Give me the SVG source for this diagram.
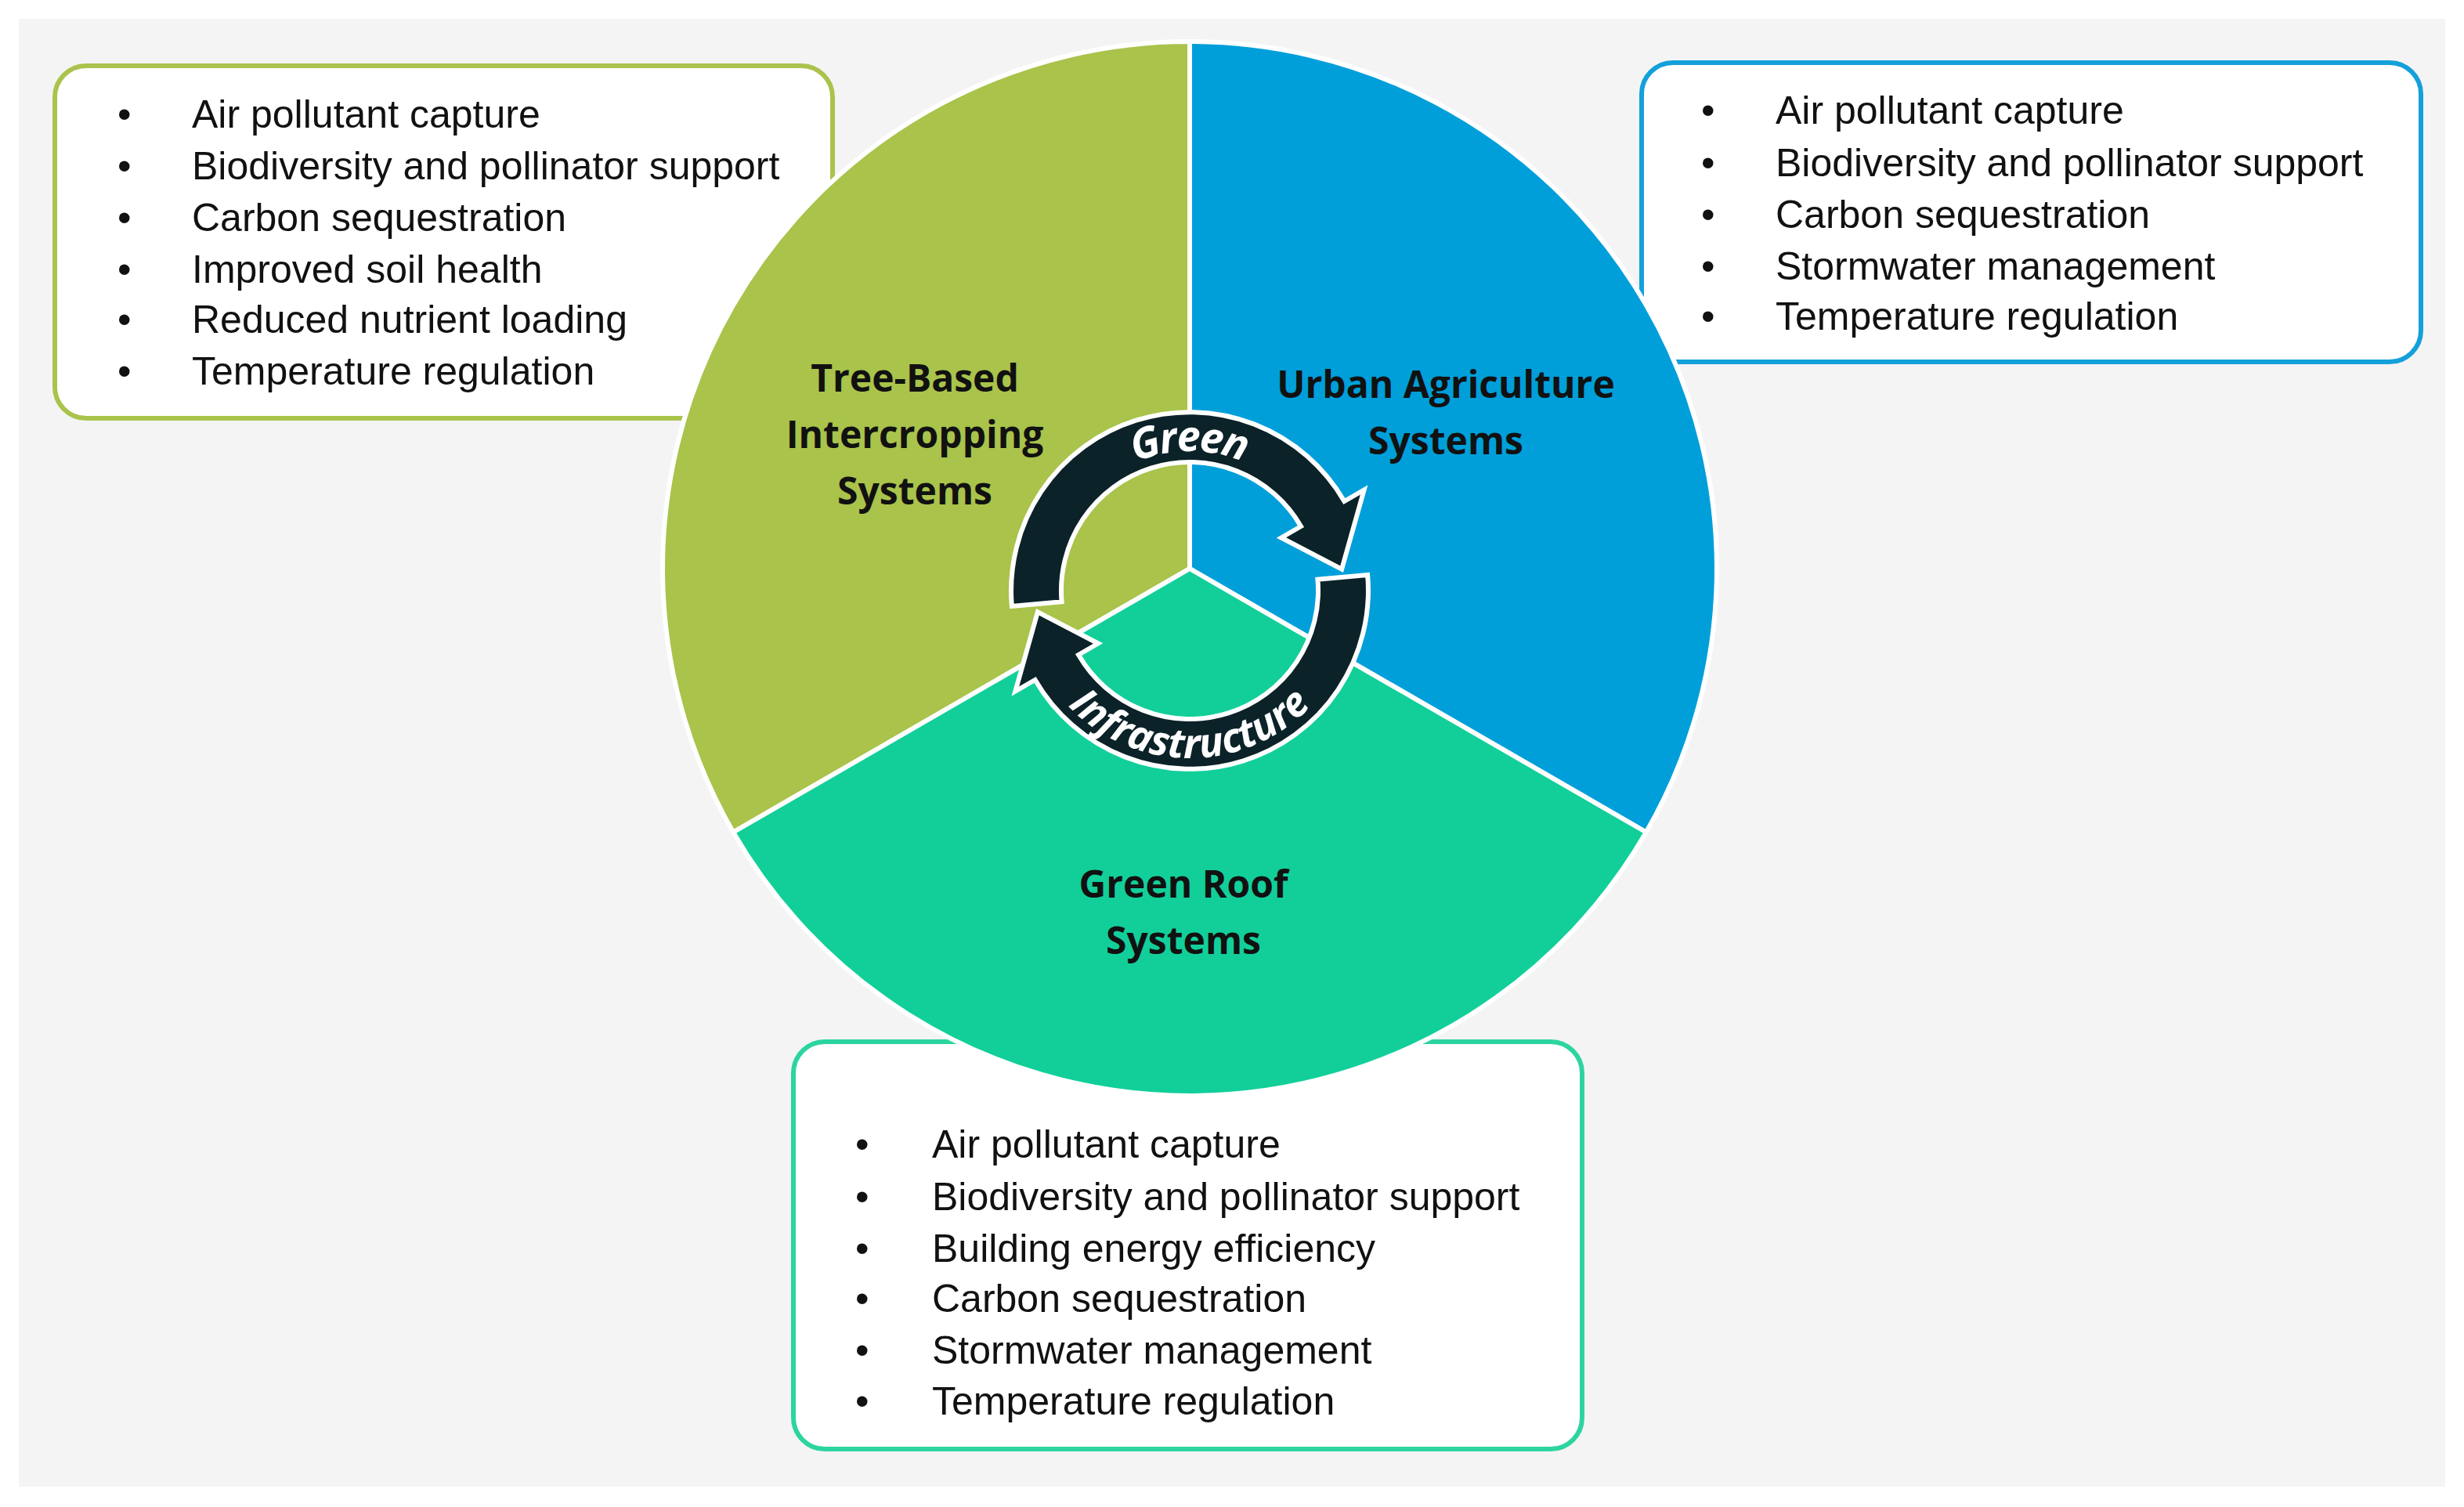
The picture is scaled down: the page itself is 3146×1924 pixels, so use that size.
<svg xmlns="http://www.w3.org/2000/svg" width="3146" height="1924" viewBox="0 0 3146 1924">
<style>
.box{fill:#fff;stroke-width:6}
.li{font-family:"Liberation Sans",Arial,sans-serif;font-size:50px;fill:#111}
.lb{font-family:"Open Sans","Liberation Sans",sans-serif;font-weight:bold;font-size:48px;fill:#111;text-anchor:middle}
.sec{stroke:#fff;stroke-width:6}
.arr{fill:#0b2228;stroke:#fff;stroke-width:6;stroke-linejoin:miter}
.rt{font-family:"Open Sans","Liberation Sans",sans-serif;font-weight:bold;font-style:italic;fill:#fff}
</style>
<defs>
<path id="topArc" d="M1323 754 A196 196 0 0 1 1715 754"/>
<path id="botArc" d="M1305 754 A214 214 0 0 0 1733 754"/>
</defs>
<rect width="3146" height="1924" fill="#fff"/>
<rect x="24" y="24" width="3098" height="1874" fill="#f4f4f4"/>
<g id="box-tree">
<rect class="box" x="70" y="84" width="993" height="450" rx="40" stroke="#a9c34b"/>
<g class="li">
<text x="150" y="163">•</text><text x="245" y="163">Air pollutant capture</text>
<text x="150" y="229">•</text><text x="245" y="229">Biodiversity and pollinator support</text>
<text x="150" y="295">•</text><text x="245" y="295">Carbon sequestration</text>
<text x="150" y="361">•</text><text x="245" y="361">Improved soil health</text>
<text x="150" y="425">•</text><text x="245" y="425">Reduced nutrient loading</text>
<text x="150" y="491">•</text><text x="245" y="491">Temperature regulation</text>
</g>
</g>
<g id="box-urban">
<rect class="box" x="2096" y="80" width="995" height="382" rx="40" stroke="#14a0da"/>
<g class="li">
<text x="2172" y="158">•</text><text x="2267" y="158">Air pollutant capture</text>
<text x="2172" y="225">•</text><text x="2267" y="225">Biodiversity and pollinator support</text>
<text x="2172" y="291">•</text><text x="2267" y="291">Carbon sequestration</text>
<text x="2172" y="357">•</text><text x="2267" y="357">Stormwater management</text>
<text x="2172" y="421">•</text><text x="2267" y="421">Temperature regulation</text>
</g>
</g>
<g id="box-roof">
<rect class="box" x="1013" y="1330" width="1007" height="520" rx="40" stroke="#2dd4a0"/>
<g class="li">
<text x="1092" y="1478">•</text><text x="1190" y="1478">Air pollutant capture</text>
<text x="1092" y="1545">•</text><text x="1190" y="1545">Biodiversity and pollinator support</text>
<text x="1092" y="1611">•</text><text x="1190" y="1611">Building energy efficiency</text>
<text x="1092" y="1675">•</text><text x="1190" y="1675">Carbon sequestration</text>
<text x="1092" y="1741">•</text><text x="1190" y="1741">Stormwater management</text>
<text x="1092" y="1806">•</text><text x="1190" y="1806">Temperature regulation</text>
</g>
</g>
<g id="sector-tree">
<path class="sec" fill="#a9c34b" d="M1519 726 L1519 53 A673 673 0 0 0 936.2 1062.5 Z"/>
<text class="lb" x="1168" y="500">Tree-Based</text>
<text class="lb" x="1168" y="572">Intercropping</text>
<text class="lb" x="1168" y="644">Systems</text>
</g>
<g id="sector-urban">
<path class="sec" fill="#009fda" d="M1519 726 L1519 53 A673 673 0 0 1 2101.8 1062.5 Z"/>
<text class="lb" x="1846" y="508">Urban Agriculture</text>
<text class="lb" x="1846" y="580">Systems</text>
</g>
<g id="sector-roof">
<path class="sec" fill="#12cf9a" d="M1519 726 L2101.8 1062.5 A673 673 0 0 1 936.2 1062.5 Z"/>
<text class="lb" x="1511" y="1146">Green Roof</text>
<text class="lb" x="1511" y="1218">Systems</text>
</g>
<g id="cycle">
<path class="arr" d="M1291.9 773.9 A228 228 0 0 1 1716.4 640 L1741.6 625.5 L1713.1 726.7 L1635.9 686.5 L1661 672 A164 164 0 0 0 1355.6 768.3 Z"/>
<path class="arr" transform="rotate(180 1519 754)" d="M1291.9 773.9 A228 228 0 0 1 1716.4 640 L1741.6 625.5 L1713.1 726.7 L1635.9 686.5 L1661 672 A164 164 0 0 0 1355.6 768.3 Z"/>
<text class="rt" font-size="54" dy="18"><textPath href="#topArc" startOffset="50%" text-anchor="middle">Green</textPath></text>
<text class="rt" font-size="52" dy="0"><textPath href="#botArc" startOffset="50%" text-anchor="middle">Infrastructure</textPath></text>
</g>
</svg>
